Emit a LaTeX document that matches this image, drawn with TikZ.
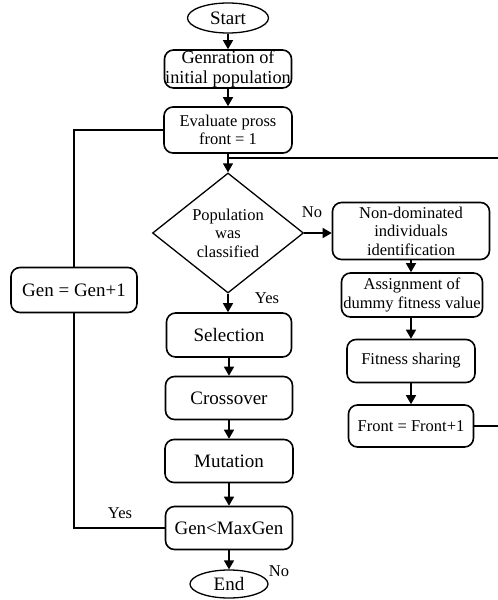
\documentclass[tikz,border=0pt]{standalone}
\usepackage{fontspec}
\setmainfont{Liberation Serif}
\usetikzlibrary{shapes.geometric,arrows.meta}
\begin{document}
\begin{tikzpicture}[x=1pt,y=-1pt,
 box/.style={draw, rounded corners=9pt, line width=1.6pt, align=center, inner sep=0pt},
 big/.style={font=\fontsize{19}{20}\selectfont},
 mid/.style={font=\fontsize{18.3}{20}\selectfont},
 small/.style={font=\fontsize{16.5}{18.5}\selectfont},
 oval/.style={draw, ellipse, line width=1.3pt, inner sep=0pt},
 arr/.style={line width=1.5pt, -{Triangle[length=9pt,width=10pt]}},
 ln/.style={line width=1.5pt},
 lbl/.style={font=\fontsize{16.5}{18}\selectfont, inner sep=0pt}]
\useasboundingbox (0,0) rectangle (498,600);
\node[oval,big,minimum width=81pt,minimum height=30pt] (start) at (228,18) {Start};
\node[box,mid,minimum width=127pt,minimum height=38pt] (gen0) at (228,69) {Genration of\\initial population};
\node[box,small,minimum width=128pt,minimum height=46pt] (eval) at (228,130) {Evaluate pross\\front = 1};
\node[draw,diamond,aspect=1.25,line width=1.3pt,inner sep=0pt,minimum width=151pt,minimum height=120pt,small,align=center] (dia) at (228,233) {Population\\was\\classified};
\node[box,big,minimum width=125pt,minimum height=44pt] (sel) at (229,335) {Selection};
\node[box,big,minimum width=127pt,minimum height=43pt] (cross) at (229,398) {Crossover};
\node[box,big,minimum width=128pt,minimum height=43pt] (mut) at (229,461) {Mutation};
\node[box,big,minimum width=127pt,minimum height=43pt] (gmg) at (229,528) {Gen<MaxGen};
\node[oval,big,minimum width=78pt,minimum height=28pt] (end) at (229,584) {End};
\node[box,big,minimum width=126pt,minimum height=45pt] (gen) at (74,290) {Gen = Gen+1};
\node[box,small,minimum width=157pt,minimum height=57pt] (nd) at (411,231) {Non-dominated\\individuals\\identification};
\node[box,small,minimum width=141pt,minimum height=44pt] (asg) at (412,295) {Assignment of\\dummy fitness value};
\node[box,small,minimum width=128pt,minimum height=43pt] (fit) at (411,361) {Fitness sharing};
\node[box,small,minimum width=125pt,minimum height=42pt] (front) at (411,426) {Front = Front+1};
\node[lbl] (no1) at (312,212) {No};
\node[lbl] (yes1) at (267,298) {Yes};
\node[lbl] (yes2) at (120,513) {Yes};
\node[lbl] (no2) at (279,571) {No};
\coordinate (j) at (228,158);
\coordinate (rc) at (504,158);
\draw[arr] (start) -- (gen0);
\draw[arr] (gen0) -- (eval);
\draw[arr] (eval) -- (dia);
\draw[arr] (dia.south) -- (dia.south |- sel.north);
\draw[arr] (sel.south) -- (sel.south |- cross.north);
\draw[arr] (cross.south) -- (cross.south |- mut.north);
\draw[arr] (mut.south) -- (mut.south |- gmg.north);
\draw[arr] (gmg.south) -- (gmg.south |- end.north);
\draw[arr] (dia.east) -- (dia.east -| nd.west);
\draw[arr] (nd.south) -- (nd.south |- asg.north);
\draw[arr] (fit.north |- asg.south) -- (fit.north);
\draw[arr] (fit.south) -- (fit.south |- front.north);
\draw[ln] (front.east) -- (front.east -| rc) -- (rc) -- (j);
\draw[ln] (gmg.west) -| (gen.south);
\draw[ln] (gen.north) |- (eval.west);
\end{tikzpicture}
\end{document}
